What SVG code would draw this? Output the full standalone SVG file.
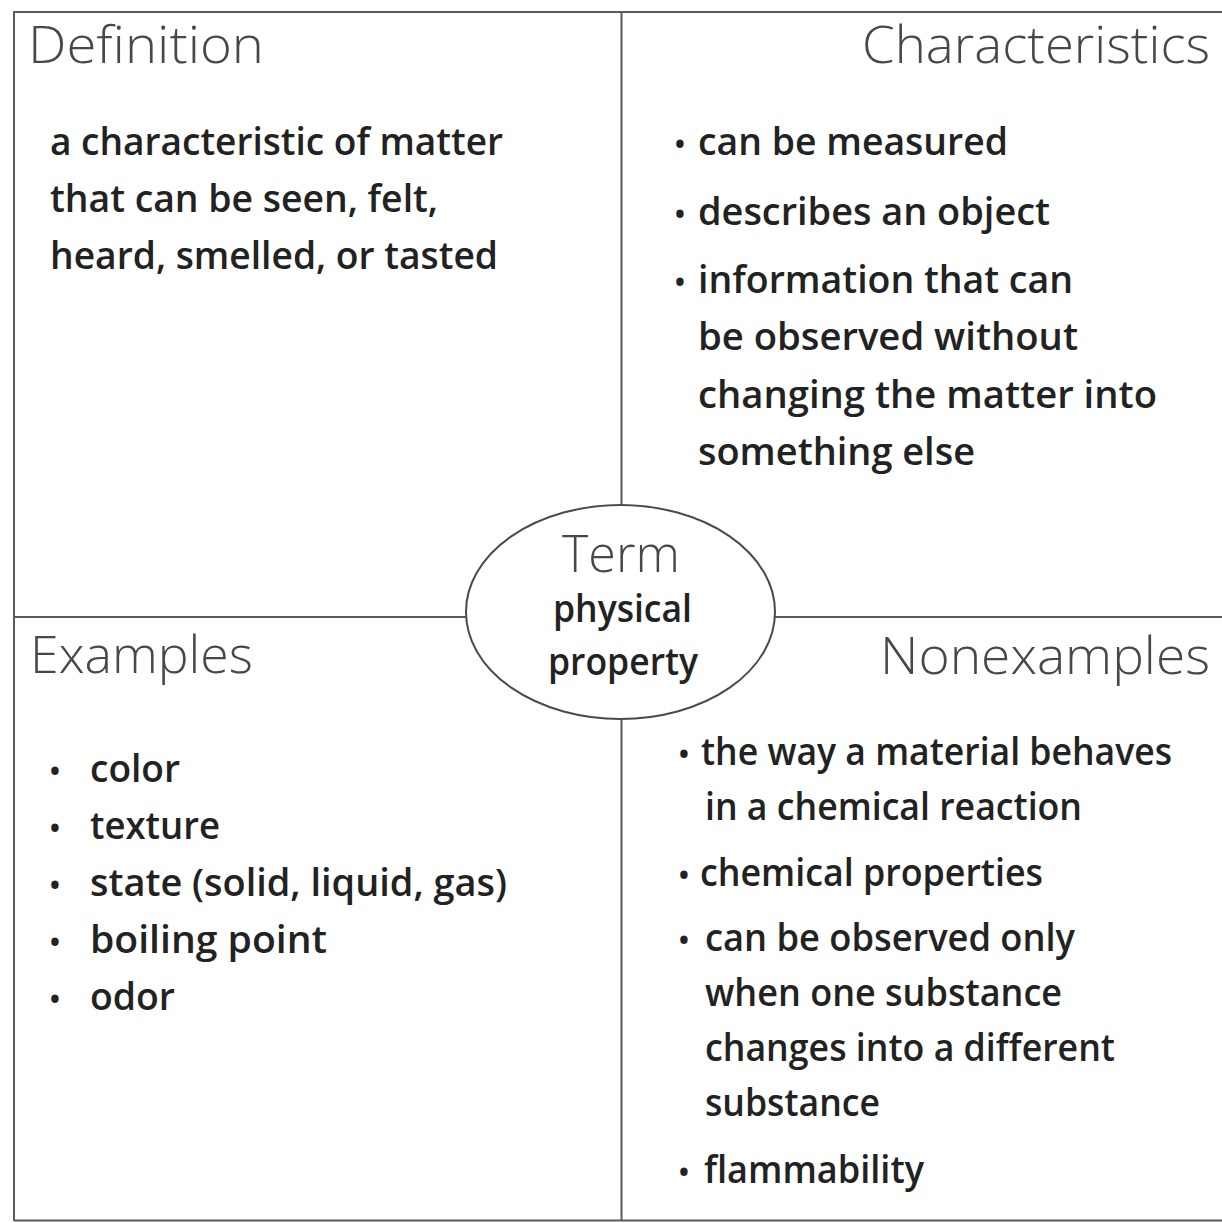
<svg xmlns="http://www.w3.org/2000/svg" width="1222" height="1223" viewBox="0 0 1222 1223">
<style>
.ln{stroke:#5a5a5a;stroke-width:2;fill:none}
.h{font-family:"Open Sans","Noto Sans",sans-serif;font-weight:300;font-size:52px;fill:#484848}
.b{font-family:"Open Sans","Noto Sans",sans-serif;font-weight:600;font-size:38px;fill:#222222}
.bu{font-family:"Open Sans","Noto Sans",sans-serif;font-weight:600;font-size:30px;fill:#222222;text-anchor:middle}
</style>
<rect width="1222" height="1223" fill="#ffffff"/>
<g id="connectors">
<line class="ln" x1="14" y1="12" x2="1222" y2="12" stroke-width="3"/>
<line class="ln" x1="14" y1="11" x2="14" y2="1221" stroke-width="3"/>
<line class="ln" x1="14" y1="1220.5" x2="1222" y2="1220.5" stroke="#9a9a9a"/>
<line class="ln" x1="621.5" y1="12" x2="621.5" y2="505"/>
<line class="ln" x1="621.5" y1="719" x2="621.5" y2="1221"/>
<line class="ln" x1="14" y1="617" x2="466" y2="617"/>
<line class="ln" x1="775" y1="617" x2="1222" y2="617"/>
</g>
<g id="definition">
<text class="h" x="28" y="63" textLength="236" lengthAdjust="spacingAndGlyphs">Definition</text>
<text class="b" x="50" y="155" textLength="453" lengthAdjust="spacingAndGlyphs">a characteristic of matter</text>
<text class="b" x="50" y="212" textLength="388" lengthAdjust="spacingAndGlyphs">that can be seen, felt,</text>
<text class="b" x="50" y="269" textLength="448" lengthAdjust="spacingAndGlyphs">heard, smelled, or tasted</text>
</g>
<g id="characteristics">
<text class="h" x="862" y="63" textLength="348" lengthAdjust="spacingAndGlyphs">Characteristics</text>
<text class="bu" x="680" y="155">•</text>
<text class="b" x="698" y="155" textLength="310" lengthAdjust="spacingAndGlyphs">can be measured</text>
<text class="bu" x="680" y="225">•</text>
<text class="b" x="698" y="225" textLength="352" lengthAdjust="spacingAndGlyphs">describes an object</text>
<text class="bu" x="680" y="293">•</text>
<text class="b" x="698" y="293" textLength="375" lengthAdjust="spacingAndGlyphs">information that can</text>
<text class="b" x="698" y="350" textLength="380" lengthAdjust="spacingAndGlyphs">be observed without</text>
<text class="b" x="698" y="408" textLength="459" lengthAdjust="spacingAndGlyphs">changing the matter into</text>
<text class="b" x="698" y="465" textLength="277" lengthAdjust="spacingAndGlyphs">something else</text>
</g>
<g id="examples">
<text class="h" x="30" y="673" textLength="223" lengthAdjust="spacingAndGlyphs">Examples</text>
<text class="bu" x="55" y="782">•</text>
<text class="b" x="90" y="782" textLength="90" lengthAdjust="spacingAndGlyphs">color</text>
<text class="bu" x="55" y="839">•</text>
<text class="b" x="90" y="839" textLength="130" lengthAdjust="spacingAndGlyphs">texture</text>
<text class="bu" x="55" y="896">•</text>
<text class="b" x="90" y="896" textLength="417" lengthAdjust="spacingAndGlyphs">state (solid, liquid, gas)</text>
<text class="bu" x="55" y="953">•</text>
<text class="b" x="90" y="953" textLength="237" lengthAdjust="spacingAndGlyphs">boiling point</text>
<text class="bu" x="55" y="1010">•</text>
<text class="b" x="90" y="1010" textLength="85" lengthAdjust="spacingAndGlyphs">odor</text>
</g>
<g id="nonexamples">
<text class="h" x="880" y="674" textLength="330" lengthAdjust="spacingAndGlyphs">Nonexamples</text>
<text class="bu" x="684" y="765">•</text>
<text class="b" x="701" y="765" textLength="471" lengthAdjust="spacingAndGlyphs">the way a material behaves</text>
<text class="b" x="705" y="820" textLength="377" lengthAdjust="spacingAndGlyphs">in a chemical reaction</text>
<text class="bu" x="684" y="886">•</text>
<text class="b" x="700" y="886" textLength="343" lengthAdjust="spacingAndGlyphs">chemical properties</text>
<text class="bu" x="684" y="951">•</text>
<text class="b" x="705" y="951" textLength="370" lengthAdjust="spacingAndGlyphs">can be observed only</text>
<text class="b" x="705" y="1006" textLength="357" lengthAdjust="spacingAndGlyphs">when one substance</text>
<text class="b" x="705" y="1061" textLength="410" lengthAdjust="spacingAndGlyphs">changes into a different</text>
<text class="b" x="705" y="1116" textLength="175" lengthAdjust="spacingAndGlyphs">substance</text>
<text class="bu" x="684" y="1183">•</text>
<text class="b" x="704" y="1183" textLength="220" lengthAdjust="spacingAndGlyphs">flammability</text>
</g>
<g id="term">
<ellipse cx="620.5" cy="612" rx="154.5" ry="107" fill="#ffffff" stroke="#4a4a4a" stroke-width="2"/>
<text class="h" x="562" y="572" textLength="118" lengthAdjust="spacingAndGlyphs">Term</text>
<text class="b" x="553" y="622" textLength="139" lengthAdjust="spacingAndGlyphs">physical</text>
<text class="b" x="548" y="675" textLength="150" lengthAdjust="spacingAndGlyphs">property</text>
</g>
</svg>
